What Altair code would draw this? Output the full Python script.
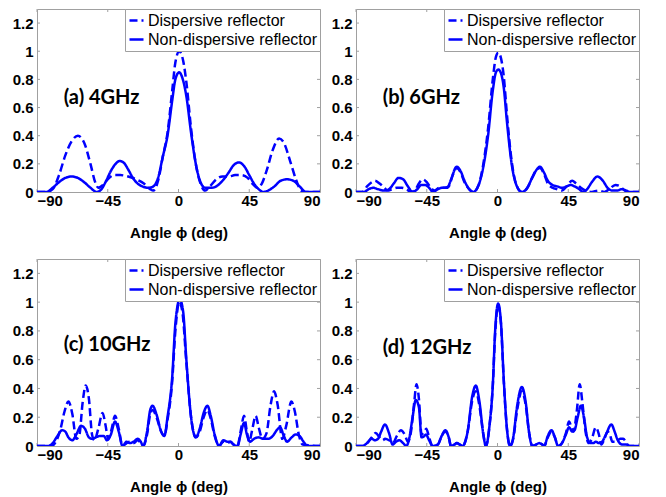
import altair as alt
import pandas as pd

SERIES = ["Dispersive reflector", "Non-dispersive reflector"]
X_TICKS = [-90, -45, 0, 45, 90]
Y_TICKS = [0, 0.2, 0.4, 0.6, 0.8, 1, 1.2]
LABELS = ["(a) 4GHz", "(b) 6GHz", "(c) 10GHz", "(d) 12GHz"]
LABEL_X = [-73, -73, -73, -73]
LABEL_Y = [0.67, 0.67, 0.70, 0.68]

# (a) 4 GHz
A_D_ANG = [-90, -84, -80, -76, -72, -68, -64, -60, -56, -53, -51, -48, -45, -41, -37, -32, -27, -22, -18, -16,
           -13, -10, -7, -4, -2, 0.5, 3, 5, 8, 11, 14, 17, 20, 24, 28, 32, 36, 40, 44, 47,
           50, 53, 56, 60, 64, 67, 71, 75, 78, 81, 90]
A_D_VAL = [0, 0, 0.02, 0.12, 0.26, 0.36, 0.40, 0.35, 0.20, 0.07, 0.03, 0.05, 0.09, 0.12, 0.12, 0.11, 0.09, 0.06, 0.02, 0.01,
           0.08, 0.25, 0.42, 0.72, 0.92, 1.0, 0.93, 0.78, 0.45, 0.2, 0.06, 0.01, 0.04, 0.09, 0.11, 0.11, 0.12, 0.12, 0.10, 0.06,
           0.03, 0.06, 0.15, 0.30, 0.38, 0.35, 0.22, 0.08, 0.01, 0, 0]
A_N_ANG = [-90, -84, -80, -76, -72, -68, -64, -60, -56, -52, -49, -46, -43, -40, -37.5, -35, -32, -29, -26, -23,
           -19, -16, -13, -10, -7, -4, -2, 0.4, 3, 5, 8, 11, 14, 17, 21, 24, 28, 32, 35, 38.5,
           42, 45, 48, 51, 54, 57, 61, 65, 69, 73, 77, 81, 90]
A_N_VAL = [0, 0, 0.03, 0.07, 0.10, 0.11, 0.10, 0.07, 0.03, 0.0, 0.02, 0.08, 0.15, 0.20, 0.22, 0.21, 0.16, 0.10, 0.06, 0.04,
           0.03, 0.04, 0.10, 0.25, 0.40, 0.65, 0.80, 0.85, 0.79, 0.68, 0.42, 0.2, 0.07, 0.03, 0.03, 0.04, 0.08, 0.14, 0.19, 0.21,
           0.18, 0.12, 0.06, 0.02, 0.0, 0.01, 0.04, 0.08, 0.09, 0.08, 0.04, 0.0, 0]

# (b) 6 GHz
B_D_ANG = [-90, -86, -83, -80, -78, -75, -72, -70, -67, -64, -61, -58, -55, -52, -50, -47.5, -45, -42.5, -40, -37,
           -34, -31, -28.5, -26, -23.5, -21, -18, -15.5, -12, -9, -6, -3, -1, 0.5, 2, 4, 6, 9, 12, 15.5,
           19, 22, 25, 27, 29.5, 32, 35, 38, 41, 44, 47.5, 50, 53, 56, 60, 64, 68, 71, 75, 78,
           81, 83, 90]
B_D_VAL = [0, 0, 0.04, 0.07, 0.08, 0.06, 0.03, 0.01, 0.02, 0.03, 0.03, 0.02, 0, 0.02, 0.06, 0.09, 0.07, 0.03, 0.01, 0.03,
           0.03, 0.04, 0.12, 0.17, 0.14, 0.07, 0.02, 0, 0.05, 0.2, 0.45, 0.8, 0.96, 0.99, 0.96, 0.82, 0.55, 0.22, 0.05, 0,
           0.03, 0.1, 0.16, 0.17, 0.13, 0.06, 0.03, 0.02, 0.01, 0.04, 0.08, 0.06, 0.03, 0.01, 0.0, 0.01, 0.0, 0.02, 0.05, 0.04,
           0.01, 0, 0]
B_N_ANG = [-90, -85, -82, -79, -76, -72, -69, -66, -63, -60, -57, -54, -51, -48.5, -46, -43.5, -41, -38, -35, -32,
           -29.5, -26, -23.5, -21, -18, -15.5, -12, -9, -6, -3, -1, 0.5, 2, 4, 6, 9, 12, 15.5, 19, 22,
           25, 27, 29.5, 32, 35, 38, 41, 44, 46.5, 49, 52, 54.5, 57, 60, 63.5, 67, 70, 73, 76, 79,
           82, 84, 90]
B_N_VAL = [0, 0, 0.02, 0.03, 0.02, 0.01, 0.02, 0.06, 0.10, 0.09, 0.04, 0, 0.02, 0.05, 0.05, 0.03, 0.0, 0.02, 0.03, 0.03,
           0.09, 0.18, 0.15, 0.08, 0.02, 0, 0.05, 0.18, 0.4, 0.72, 0.85, 0.87, 0.85, 0.74, 0.5, 0.2, 0.05, 0, 0.03, 0.1,
           0.16, 0.18, 0.14, 0.08, 0.05, 0.04, 0.03, 0.04, 0.05, 0.04, 0.02, 0, 0.02, 0.07, 0.11, 0.08, 0.03, 0.01, 0.01, 0.02,
           0.01, 0, 0]

# (c) 10 GHz
C_D_ANG = [-90, -81, -78, -75, -72.5, -70, -67.5, -65, -63, -61, -59, -57, -55, -53.5, -51, -48.3, -46.5, -44.7, -42.5, -40.4,
           -38, -35.6, -33, -31, -28.5, -26, -24, -22.5, -20, -18, -16.5, -14, -11, -9, -7, -4, -2, 0.5, 2.5, 5,
           8, 11, 13.5, 16, 18.4, 20.5, 23, 25.8, 28.5, 31, 33, 35, 37.5, 39.5, 41.7, 43.5, 45, 47, 49.1, 51,
           53.4, 56, 58.5, 60.8, 63, 66, 68.5, 71.8, 74, 76.5, 79, 90]
C_D_VAL = [0, 0, 0.03, 0.12, 0.24, 0.31, 0.22, 0.05, 0.08, 0.30, 0.42, 0.33, 0.08, 0.04, 0.12, 0.23, 0.15, 0.05, 0.12, 0.21,
           0.12, 0, 0.02, 0.03, 0.02, 0.04, 0.02, 0, 0.08, 0.22, 0.25, 0.20, 0.10, 0.07, 0.18, 0.45, 0.8, 1.0, 0.93, 0.58,
           0.2, 0.06, 0.1, 0.2, 0.25, 0.19, 0.07, 0, 0.03, 0.02, 0.03, 0.01, 0, 0.1, 0.21, 0.1, 0.03, 0.12, 0.21, 0.13,
           0.05, 0.09, 0.28, 0.38, 0.29, 0.05, 0.14, 0.31, 0.24, 0.08, 0.01, 0]
C_N_ANG = [-90, -83, -80, -77, -74, -72, -70, -67.5, -65, -62, -59.5, -57, -55, -52.5, -50, -47.5, -45.5, -43, -40.4, -38,
           -35.6, -33, -31, -28.5, -26, -24, -22.5, -20, -18, -16.5, -14, -11, -9, -7, -4, -2, 0.8, 3, 5, 8,
           11, 13.5, 16, 18.4, 20.5, 23, 25.8, 28.5, 31, 33, 35, 37.5, 39.5, 41.7, 43.5, 45.5, 48, 51, 54, 57,
           60, 62.5, 64.6, 67, 69, 72, 74.5, 77, 79.5, 82, 90]
C_N_VAL = [0, 0, 0.02, 0.07, 0.11, 0.10, 0.06, 0.04, 0.08, 0.14, 0.12, 0.06, 0.05, 0.06, 0.07, 0.07, 0.04, 0.08, 0.17, 0.10,
           0.0, 0.03, 0.02, 0.03, 0.05, 0.03, 0.0, 0.1, 0.25, 0.28, 0.22, 0.1, 0.07, 0.2, 0.48, 0.85, 1.02, 0.93, 0.6, 0.2,
           0.06, 0.12, 0.23, 0.28, 0.21, 0.08, 0.0, 0.04, 0.03, 0.03, 0.01, 0, 0.08, 0.16, 0.08, 0.03, 0.05, 0.06, 0.05, 0.05,
           0.07, 0.11, 0.13, 0.07, 0.03, 0.06, 0.08, 0.07, 0.03, 0, 0]

# (d) 12 GHz
D_D_ANG = [-90, -86, -83, -80, -77.5, -75, -73, -71.5, -69, -66.5, -64, -61.5, -59, -57, -55, -53, -51.5, -50, -48.3, -46.5,
           -45.3, -43.5, -41.3, -38, -35.5, -33.2, -31, -29.6, -27.5, -25.8, -24, -22.2, -19, -16, -13.8, -11.5, -9, -7.4, -5, -3,
           -1.5, 0.4, 2.2, 4, 6, 8, 10, 12.5, 15.5, 18, 20, 22.2, 24.5, 26.5, 28.5, 29.7, 32, 34.3, 36.5, 38.5,
           41, 43.5, 45.5, 47, 48.3, 50.5, 52.3, 54, 56, 58, 60, 62.5, 64.5, 66, 68, 70, 71.5, 73, 75.5, 78,
           80, 82, 84, 90]
D_D_VAL = [0, 0, 0.02, 0.06, 0.09, 0.06, 0.04, 0.05, 0.04, 0.02, 0.07, 0.11, 0.08, 0.03, 0.1, 0.3, 0.43, 0.33, 0.08, 0.1,
           0.12, 0.06, 0, 0.01, 0.07, 0.10, 0.06, 0, 0.01, 0.02, 0.01, 0, 0.1, 0.32, 0.38, 0.28, 0.08, 0, 0.15, 0.42,
           0.78, 0.98, 0.85, 0.45, 0.12, 0, 0.05, 0.25, 0.38, 0.28, 0.1, 0, 0.01, 0.02, 0.01, 0, 0.06, 0.10, 0.06, 0,
           0.02, 0.09, 0.17, 0.13, 0.10, 0.25, 0.43, 0.3, 0.1, 0.02, 0.05, 0.13, 0.08, 0.01, 0.05, 0.1, 0.08, 0.03, 0.03, 0.05,
           0.05, 0.02, 0, 0]
D_N_ANG = [-90, -86, -83, -80, -78, -76, -74, -71.6, -69, -66.7, -64.5, -62.5, -60, -58, -56, -54, -52, -50, -48.3, -46.5,
           -45.5, -43.5, -41.3, -38, -35.5, -33.2, -31, -29.6, -27.5, -25.8, -24, -22.2, -19, -16, -13.8, -11.5, -9, -7.4, -5, -3,
           -1.5, 0.4, 2.2, 4, 6, 8, 10, 12.5, 15.5, 18, 20, 22.2, 24.5, 26.5, 28.5, 29.7, 32, 34.3, 36.5, 38.5,
           41, 43.5, 45.5, 47.5, 49, 51, 53, 55, 57, 59.3, 61, 62.5, 64.5, 66.5, 69, 72.4, 74.5, 76.5, 79.4, 82,
           84, 90]
D_N_VAL = [0, 0, 0.02, 0.05, 0.04, 0.05, 0.1, 0.15, 0.09, 0.01, 0.03, 0.04, 0.02, 0, 0.06, 0.2, 0.32, 0.27, 0.06, 0.07,
           0.08, 0.04, 0, 0.01, 0.07, 0.11, 0.06, 0, 0.01, 0.02, 0.01, 0, 0.1, 0.35, 0.42, 0.31, 0.08, 0, 0.15, 0.42,
           0.8, 0.99, 0.86, 0.46, 0.12, 0, 0.06, 0.28, 0.41, 0.3, 0.1, 0, 0.01, 0.02, 0.01, 0, 0.07, 0.11, 0.06, 0,
           0.02, 0.08, 0.13, 0.10, 0.11, 0.2, 0.28, 0.2, 0.06, 0.02, 0.02, 0.03, 0.02, 0.03, 0.08, 0.15, 0.1, 0.04, 0.01, 0.01,
           0, 0]

BLUE = "#0000ff"
FRAME = "#a0a0a0"
W = 283


def panel(ad, vd, an, vn, label, lx, ly, h):
    df = pd.concat([
        pd.DataFrame({"angle": ad, "value": vd, "series": SERIES[0]}),
        pd.DataFrame({"angle": an, "value": vn, "series": SERIES[1]}),
    ])
    x = alt.X("angle:Q", scale=alt.Scale(domain=[-90, 90], nice=False, zero=False),
              axis=alt.Axis(values=X_TICKS, title="Angle ϕ (deg)"))
    y = alt.Y("value:Q", scale=alt.Scale(domain=[0, 1.3], nice=False, zero=False),
              axis=alt.Axis(values=Y_TICKS, format="~g", title=None))
    lines = alt.Chart(df).mark_line(interpolate="monotone", strokeWidth=2.5, color=BLUE, clip=True).encode(
        x=x, y=y,
        strokeDash=alt.StrokeDash(
            "series:N",
            scale=alt.Scale(domain=SERIES, range=[[8, 4], [1, 0]]),
            legend=alt.Legend(title=None, orient="top-right"),
        ),
    )
    txt = alt.Chart(pd.DataFrame({"angle": [lx], "value": [ly], "label": [label]})).mark_text(
        align="left", baseline="middle", font="Lato", fontSize=20, fontWeight="bold", color="black"
    ).encode(x=x, y=y, text="label:N")
    xt = pd.DataFrame({"angle": X_TICKS})
    yt = pd.DataFrame({"value": Y_TICKS})
    tick_top = alt.Chart(xt).mark_rule(color=FRAME, strokeWidth=1).encode(x=x, y=alt.value(0), y2=alt.value(3))
    tick_bot = alt.Chart(xt).mark_rule(color=FRAME, strokeWidth=1).encode(x=x, y=alt.value(h), y2=alt.value(h - 3))
    tick_l = alt.Chart(yt).mark_rule(color=FRAME, strokeWidth=1).encode(y=y, x=alt.value(0), x2=alt.value(3))
    tick_r = alt.Chart(yt).mark_rule(color=FRAME, strokeWidth=1).encode(y=y, x=alt.value(W), x2=alt.value(W - 3))
    return alt.layer(tick_top, tick_bot, tick_l, tick_r, lines, txt).properties(width=W, height=h)


pa = panel(A_D_ANG, A_D_VAL, A_N_ANG, A_N_VAL, LABELS[0], LABEL_X[0], LABEL_Y[0], 183)
pb = panel(B_D_ANG, B_D_VAL, B_N_ANG, B_N_VAL, LABELS[1], LABEL_X[1], LABEL_Y[1], 183)
pc = panel(C_D_ANG, C_D_VAL, C_N_ANG, C_N_VAL, LABELS[2], LABEL_X[2], LABEL_Y[2], 187)
pd_ = panel(D_D_ANG, D_D_VAL, D_N_ANG, D_N_VAL, LABELS[3], LABEL_X[3], LABEL_Y[3], 187)

chart = alt.concat(pa, pb, pc, pd_, columns=2, spacing={"row": 67, "column": 36}, bounds="flush").resolve_scale(
    strokeDash="independent"
).properties(
    padding={"left": 3, "top": 0, "right": 0, "bottom": 0}
).configure_view(
    stroke=FRAME, strokeWidth=1
).configure_axis(
    labelFont="Liberation Sans", labelFontWeight="bold", labelFontSize=15, labelColor="black",
    titleFont="Liberation Sans", titleFontWeight="bold", titleFontSize=15, titleColor="black",
    domain=False, ticks=False, grid=False,
).configure_axisX(
    labelPadding=1, titlePadding=17,
).configure_axisY(
    labelPadding=4,
).configure_legend(
    labelFont="Liberation Sans", labelFontSize=16, labelColor="black", labelFontWeight="normal",
    labelLimit=0,
    strokeColor=FRAME, fillColor="white", padding=3, offset=0, cornerRadius=0,
    symbolType="stroke", symbolSize=196, symbolStrokeWidth=2.5, symbolStrokeColor=BLUE,
    rowPadding=2, labelOffset=3,
)

chart.save("out.html", embed_options={"renderer": "svg", "actions": False})
